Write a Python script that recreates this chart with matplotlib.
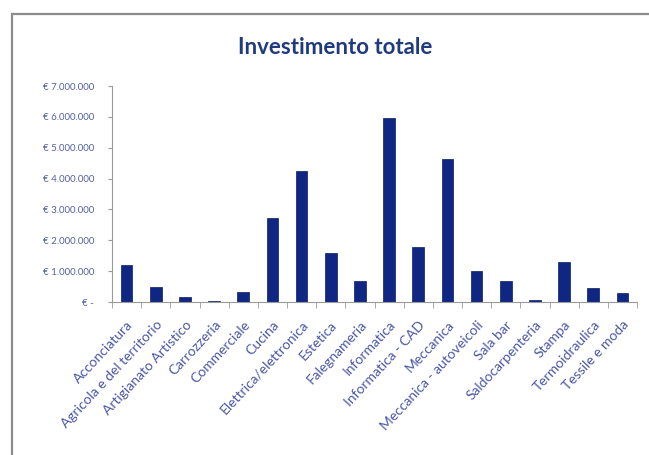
#!/usr/bin/env python3
import numpy as np, matplotlib
matplotlib.use('Agg')
import matplotlib.pyplot as plt
from matplotlib.patches import Rectangle

categorie = ["Acconciatura", "Agricola e del territorio", "Artigianato Artistico",
             "Carrozzeria", "Commerciale", "Cucina", "Elettrica/elettronica",
             "Estetica", "Falegnameria", "Informatica", "Informatica - CAD",
             "Meccanica", "Meccanica - autoveicoli", "Sala bar", "Saldocarpenteria",
             "Stampa", "Termoidraulica", "Tessile e moda"]
investimento = [1200000, 470000, 170000, 40000, 310000, 2720000, 4230000,
                1600000, 690000, 5950000, 1770000, 4650000, 1000000, 680000,
                80000, 1300000, 440000, 300000]
y_ticks = [0, 1000000, 2000000, 3000000, 4000000, 5000000, 6000000, 7000000]
y_labels = ["€ -", "€ 1.000.000", "€ 2.000.000", "€ 3.000.000", "€ 4.000.000",
            "€ 5.000.000", "€ 6.000.000", "€ 7.000.000"]

plt.rcParams['font.family'] = ['Lato', 'DejaVu Sans']

fig = plt.figure(figsize=(6.49, 4.55), dpi=100)
fig.patch.set_facecolor('white')

# cornice grigia del grafico (stile Excel)
fig.patches.append(Rectangle((12/649, -0.05), 1.0, 1 - 14/455 + 0.05,
                             transform=fig.transFigure, fill=False,
                             edgecolor='#8c8c8c', linewidth=1.6))

ax = fig.add_axes([112/649, 1 - 302/455, (637 - 112)/649, (302 - 86)/455])
x = np.arange(len(categorie))
ax.bar(x, investimento, width=0.4, color='#0f2783', edgecolor='#0a1c63', linewidth=0.5)

ax.set_xlim(-0.5, len(categorie) - 0.5)
ax.set_ylim(0, 7000000)
ax.set_yticks(y_ticks)
ax.set_yticklabels(y_labels, fontsize=7, color='#5560a0')
ax.tick_params(axis='y', length=3, color='#9a9a9a', pad=10)

ax.set_xticks(x)
ax.set_xticklabels(categorie, rotation=47, ha='right', rotation_mode='anchor',
                   fontsize=10, color='#4a57a6')
ax.tick_params(axis='x', length=0, pad=12)
ax.set_xticks(np.arange(-0.5, len(categorie), 1), minor=True)
ax.tick_params(axis='x', which='minor', length=4, color='#9a9a9a')

for s in ['top', 'right']:
    ax.spines[s].set_visible(False)
for s in ['left', 'bottom']:
    ax.spines[s].set_color('#9a9a9a')
    ax.spines[s].set_linewidth(0.8)

fig.text(335/649, 1 - 47/455, 'Investimento totale', ha='center', va='center',
         fontsize=16, color='#1f3b7c', fontweight='bold')

plt.savefig('out.png', dpi=100)
